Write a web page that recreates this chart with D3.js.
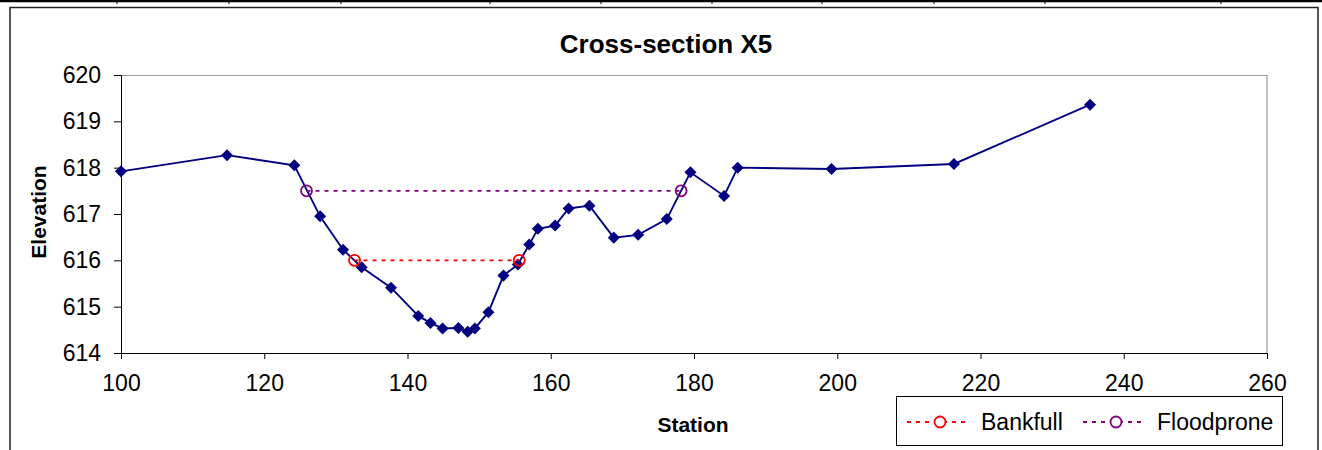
<!DOCTYPE html>
<html>
<head>
<meta charset="utf-8">
<script src="https://cdn.jsdelivr.net/npm/d3@7"></script>
<style>
  body { margin: 0; background: #fff; }
  svg { display: block; font-family: Arial, "Liberation Sans", sans-serif; }
</style>
</head>
<body>
<svg id="chart" width="1322" height="450"></svg>
<script>
// station / elevation survey points
var stations = [100, 114.8, 124.2, 127.8, 131.0, 133.6, 137.7, 141.5, 143.2, 144.9,
  147.1, 148.4, 149.4, 151.3, 153.4, 155.4, 157.0, 158.2, 160.6, 162.5,
  165.4, 168.8, 172.2, 176.2, 179.5, 184.2, 186.1, 199.2, 216.3, 235.3];
var elevations = [617.92, 618.27, 618.05, 616.95, 616.23, 615.85, 615.41, 614.8, 614.65, 614.53,
  614.54, 614.46, 614.53, 614.88, 615.67, 615.91, 616.34, 616.68, 616.75, 617.12,
  617.18, 616.49, 616.55, 616.89, 617.9, 617.39, 618.0, 617.97, 618.08, 619.36];

var bankfullX = [132.6, 155.6];
var bankfullY = [616.0, 616.0];
var floodproneX = [125.9, 178.2];
var floodproneY = [617.5, 617.5];

var xTicks = [100, 120, 140, 160, 180, 200, 220, 240, 260];
var yTicks = [614, 615, 616, 617, 618, 619, 620];

// little divider marks along the top edge (page table remnant)
var topMarks = [117, 229, 341, 490, 601, 712, 822, 934, 1045, 1221];

var svg = d3.select('#chart');
var margin = { top: 75, right: 55, bottom: 97, left: 121 };
var width = 1322, height = 450;
var innerW = width - margin.left - margin.right;
var innerH = height - margin.top - margin.bottom;

// top rule with marks
svg.append('line')
  .attr('x1', 0).attr('x2', width)
  .attr('y1', 1).attr('y2', 1)
  .attr('stroke', '#000').attr('stroke-width', 2.5);
svg.selectAll('.topmark')
  .data(topMarks)
  .enter().append('line')
  .attr('class', 'topmark')
  .attr('x1', d => d).attr('x2', d => d)
  .attr('y1', 0).attr('y2', 4)
  .attr('stroke', '#000').attr('stroke-width', 1);

// outer chart frame (open at bottom)
svg.append('path')
  .attr('d', 'M10,452 L10,7.5 L1318,7.5 L1318,452')
  .attr('fill', 'none')
  .attr('stroke', '#222')
  .attr('stroke-width', 1.5);

var x = d3.scaleLinear().domain([100, 260]).range([0, innerW]);
var y = d3.scaleLinear().domain([614, 620]).range([innerH, 0]);

var g = svg.append('g')
  .attr('transform', `translate(${margin.left},${margin.top})`);

// plot area border (gray top and right)
g.append('path')
  .attr('d', `M0,0.5 L${innerW},0.5 L${innerW},${innerH}`)
  .attr('fill', 'none')
  .attr('stroke', '#999')
  .attr('stroke-width', 1.2);

var fontFam = 'Arial, "Liberation Sans", sans-serif';

g.append('g')
  .attr('class', 'y-axis')
  .call(d3.axisLeft(y).tickValues(yTicks).tickSize(7).tickPadding(13).tickFormat(d3.format('d')))
  .call(a => a.select('.domain').attr('stroke', '#000'))
  .call(a => a.selectAll('text').style('font-size', '23px').attr('fill', '#000').attr('font-family', fontFam));

g.append('g')
  .attr('class', 'x-axis')
  .attr('transform', `translate(0,${innerH})`)
  .call(d3.axisBottom(x).tickValues(xTicks).tickSize(6).tickPadding(16).tickFormat(d3.format('d')))
  .call(a => a.select('.domain').attr('stroke', '#000'))
  .call(a => a.selectAll('text').style('font-size', '23px').attr('fill', '#000').attr('font-family', fontFam));

// title and axis titles
svg.append('text')
  .attr('x', 666).attr('y', 53)
  .attr('text-anchor', 'middle')
  .attr('font-size', 26).attr('font-weight', 'bold')
  .text('Cross-section X5');

svg.append('text')
  .attr('transform', 'translate(46,212) rotate(-90)')
  .attr('text-anchor', 'middle')
  .attr('font-size', 21).attr('font-weight', 'bold')
  .text('Elevation');

svg.append('text')
  .attr('x', 693).attr('y', 432)
  .attr('text-anchor', 'middle')
  .attr('font-size', 21).attr('font-weight', 'bold')
  .text('Station');

// ground profile
var profile = stations.map((s, i) => ({ x: s, y: elevations[i] }));
var line = d3.line().x(d => x(d.x)).y(d => y(d.y));

g.append('path')
  .datum(profile)
  .attr('fill', 'none')
  .attr('stroke', '#000080')
  .attr('stroke-width', 1.9)
  .attr('d', line);

var diamond = d3.symbol().type(d3.symbolDiamond2).size(92);
g.selectAll('.pt')
  .data(profile)
  .enter().append('path')
  .attr('class', 'pt')
  .attr('transform', d => `translate(${x(d.x)},${y(d.y)})`)
  .attr('d', diamond)
  .attr('fill', '#000080');

// bankfull and floodprone levels
function drawLevel(xs, ys, color) {
  var pts = xs.map((v, i) => ({ x: v, y: ys[i] }));
  g.append('path')
    .datum(pts)
    .attr('fill', 'none')
    .attr('stroke', color)
    .attr('stroke-width', 1.8)
    .attr('stroke-dasharray', '4,5')
    .attr('d', line);
  g.selectAll(null)
    .data(pts)
    .enter().append('circle')
    .attr('cx', d => x(d.x))
    .attr('cy', d => y(d.y))
    .attr('r', 5.5)
    .attr('fill', 'none')
    .attr('stroke', color)
    .attr('stroke-width', 1.8);
}
drawLevel(floodproneX, floodproneY, '#800080');
drawLevel(bankfullX, bankfullY, '#ff0000');

// legend
var legend = svg.append('g');
legend.append('rect')
  .attr('x', 896.5).attr('y', 396.5)
  .attr('width', 386).attr('height', 49)
  .attr('fill', '#fff').attr('stroke', '#000').attr('stroke-width', 1);

var legendItems = [
  { name: 'Bankfull', color: '#ff0000', x0: 907 },
  { name: 'Floodprone', color: '#800080', x0: 1083 }
];
legendItems.forEach(function (it) {
  legend.append('line')
    .attr('x1', it.x0).attr('x2', it.x0 + 61)
    .attr('y1', 422).attr('y2', 422)
    .attr('stroke', it.color).attr('stroke-width', 1.8)
    .attr('stroke-dasharray', '4,5');
  legend.append('circle')
    .attr('cx', it.x0 + 33).attr('cy', 422).attr('r', 5.5)
    .attr('fill', '#fff')
    .attr('stroke', it.color).attr('stroke-width', 1.8);
  legend.append('text')
    .attr('x', it.x0 + 74).attr('y', 430)
    .attr('font-size', 23)
    .text(it.name);
});
</script>
</body>
</html>
